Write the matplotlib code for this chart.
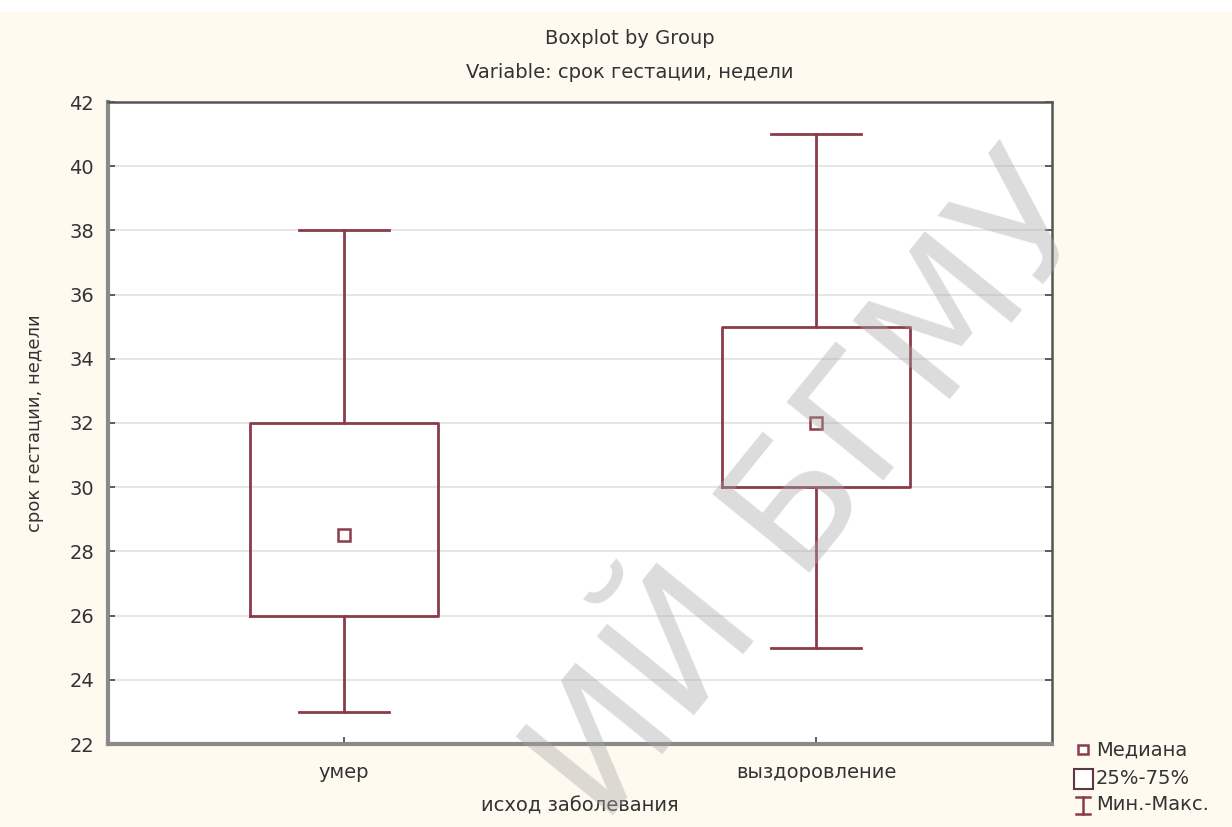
import matplotlib
matplotlib.use("Agg")
import matplotlib.pyplot as plt
from matplotlib.patches import Rectangle
from matplotlib.lines import Line2D

# ---- data ----
groups = ["умер", "выздоровление"]
mins = [23, 25]
q1s = [26, 30]
medians = [28.5, 32]
q3s = [32, 35]
maxs = [38, 41]
yticks = [22, 24, 26, 28, 30, 32, 34, 36, 38, 40, 42]
legend_labels = ["Медиана", "25%-75%", "Мин.-Макс."]

title1 = "Boxplot by Group"
title2 = "Variable: срок гестации, недели"
xlabel = "исход заболевания"
ylabel = "срок гестации, недели"

BOX = "#8a3c4a"
TXT = "#333333"
BG = "#fefaef"

plt.rcParams["font.family"] = ["DejaVu Sans"]

fig = plt.figure(figsize=(12.32, 8.27), dpi=100, facecolor=BG)
fig.patches.append(Rectangle((0, 1 - 12 / 827), 1, 12 / 827, transform=fig.transFigure,
                             facecolor="white", edgecolor="none", zorder=0))

ax = fig.add_axes([108 / 1232, 1 - 744 / 827, (1052 - 108) / 1232, (744 - 102) / 827])
ax.set_facecolor("white")

positions = list(range(1, len(groups) + 1))
stats = []
for g, lo, a, m, b, hi in zip(groups, mins, q1s, medians, q3s, maxs):
    stats.append(dict(label=g, whislo=lo, q1=a, med=m, q3=b, whishi=hi, fliers=[]))

ax.bxp(stats, positions=positions, widths=0.4, capwidths=0.19, showfliers=False,
       boxprops=dict(color=BOX, linewidth=2),
       whiskerprops=dict(color=BOX, linewidth=2),
       capprops=dict(color=BOX, linewidth=2),
       medianprops=dict(linestyle="none"), manage_ticks=False, zorder=3)
ax.plot(positions, medians, linestyle="none", marker="s", markersize=8,
        markerfacecolor="white", markeredgecolor=BOX, markeredgewidth=1.8, zorder=4)

ax.set_xlim(0.5, 2.5)
ax.set_ylim(22, 42)
ax.set_yticks(yticks)
ax.set_xticks(positions)
ax.set_xticklabels(groups)
ax.yaxis.grid(True, color="#e2e2e2", linewidth=1.2, zorder=0)
ax.set_axisbelow(True)
ax.tick_params(axis="both", direction="in", length=5, width=1.2, color="#444444",
               labelsize=14, labelcolor=TXT)
ax.tick_params(axis="y", right=True, pad=10)
ax.tick_params(axis="x", pad=14)

for side in ["left", "bottom"]:
    ax.spines[side].set_color("#8a8a8a")
    ax.spines[side].set_linewidth(3)
for side in ["top", "right"]:
    ax.spines[side].set_color("#555555")
    ax.spines[side].set_linewidth(1.8)

ax.set_xlabel(xlabel, fontsize=14, color=TXT, labelpad=10)
ax.set_ylabel(ylabel, fontsize=13, color=TXT, labelpad=18)

fig.text(630 / 1232, 1 - 38 / 827, title1, ha="center", va="center", fontsize=14, color=TXT)
fig.text(630 / 1232, 1 - 72 / 827, title2, ha="center", va="center", fontsize=14, color=TXT)

# legend drawn manually in figure pixel space
def fx(px):
    return px / 1232

def fy(py):
    return 1 - py / 827

fig.patches.append(Rectangle((fx(1078), fy(754)), fx(10), 9 / 827, transform=fig.transFigure,
                             facecolor="white", edgecolor=BOX, linewidth=1.8))
fig.patches.append(Rectangle((fx(1074), fy(789)), fx(19), 20 / 827, transform=fig.transFigure,
                             facecolor="white", edgecolor="#5a3a40", linewidth=1.5))
fig.lines.append(Line2D([fx(1083), fx(1083)], [fy(797), fy(814)], transform=fig.transFigure,
                        color=BOX, linewidth=1.8))
fig.lines.append(Line2D([fx(1076), fx(1090)], [fy(797), fy(797)], transform=fig.transFigure,
                        color=BOX, linewidth=1.8))
fig.lines.append(Line2D([fx(1076), fx(1090)], [fy(814), fy(814)], transform=fig.transFigure,
                        color=BOX, linewidth=1.8))
for lbl, py in zip(legend_labels, [750, 778, 805]):
    fig.text(fx(1096), fy(py), lbl, ha="left", va="center", fontsize=14, color=TXT)

# watermark
fig.text(fx(815), fy(492), "ИЙ БГМУ", rotation=51, rotation_mode="anchor",
         ha="center", va="center", fontsize=124, color="#a8a8a8", alpha=0.4, zorder=10)

fig.savefig("out.png", dpi=100, facecolor=BG)
